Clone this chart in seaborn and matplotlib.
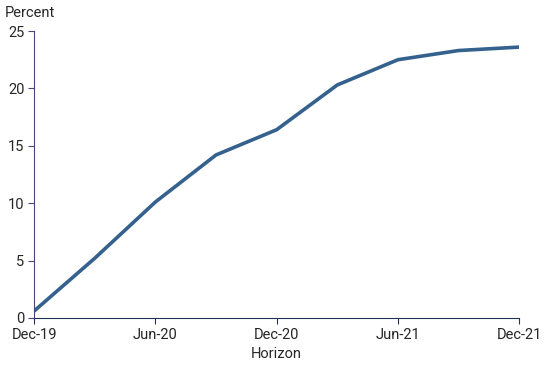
import pandas as pd
import seaborn as sns
import matplotlib.pyplot as plt

# Quarterly horizon and cumulative percent
quarters = ["Dec-19", "Mar-20", "Jun-20", "Sep-20", "Dec-20",
            "Mar-21", "Jun-21", "Sep-21", "Dec-21"]
percent = [0.6, 5.2, 10.1, 14.2, 16.4, 20.3, 22.5, 23.3, 23.6]
tick_labels = ["Dec-19", "Jun-20", "Dec-20", "Jun-21", "Dec-21"]
y_ticks = [0, 5, 10, 15, 20, 25]

df = pd.DataFrame({"pos": range(len(quarters)), "quarter": quarters, "percent": percent})

sns.set_style("white")
plt.rcParams['font.family'] = ['Roboto', 'DejaVu Sans']

fig = plt.figure(figsize=(5.5, 3.65), dpi=100)
ax = fig.add_axes([0.062, 0.129, 0.882, 0.786])

sns.lineplot(data=df, x="pos", y="percent", color="#34618e", linewidth=2.6, ax=ax)

ax.set_xlim(0, len(quarters) - 1)
ax.set_ylim(0, 25)
ax.set_xticks([quarters.index(t) for t in tick_labels])
ax.set_xticklabels(tick_labels)
ax.set_yticks(y_ticks)
ax.set_xlabel("Horizon", fontsize=10.5, labelpad=4)
ax.set_ylabel("")
ax.text(-0.06, 1.04, "Percent", transform=ax.transAxes, fontsize=10.5, ha="left", va="bottom")

for s in ["top", "right"]:
    ax.spines[s].set_visible(False)
ax.spines["left"].set_color("#4a4577")
ax.spines["bottom"].set_color("#1f3352")
ax.tick_params(axis="y", length=4, color="#4a4577", labelsize=10.5, pad=3, direction="out", left=True)
ax.tick_params(axis="x", length=4, color="#1f3352", labelsize=10.5, pad=3, direction="out", bottom=True)

fig.savefig("out.png", dpi=100)
